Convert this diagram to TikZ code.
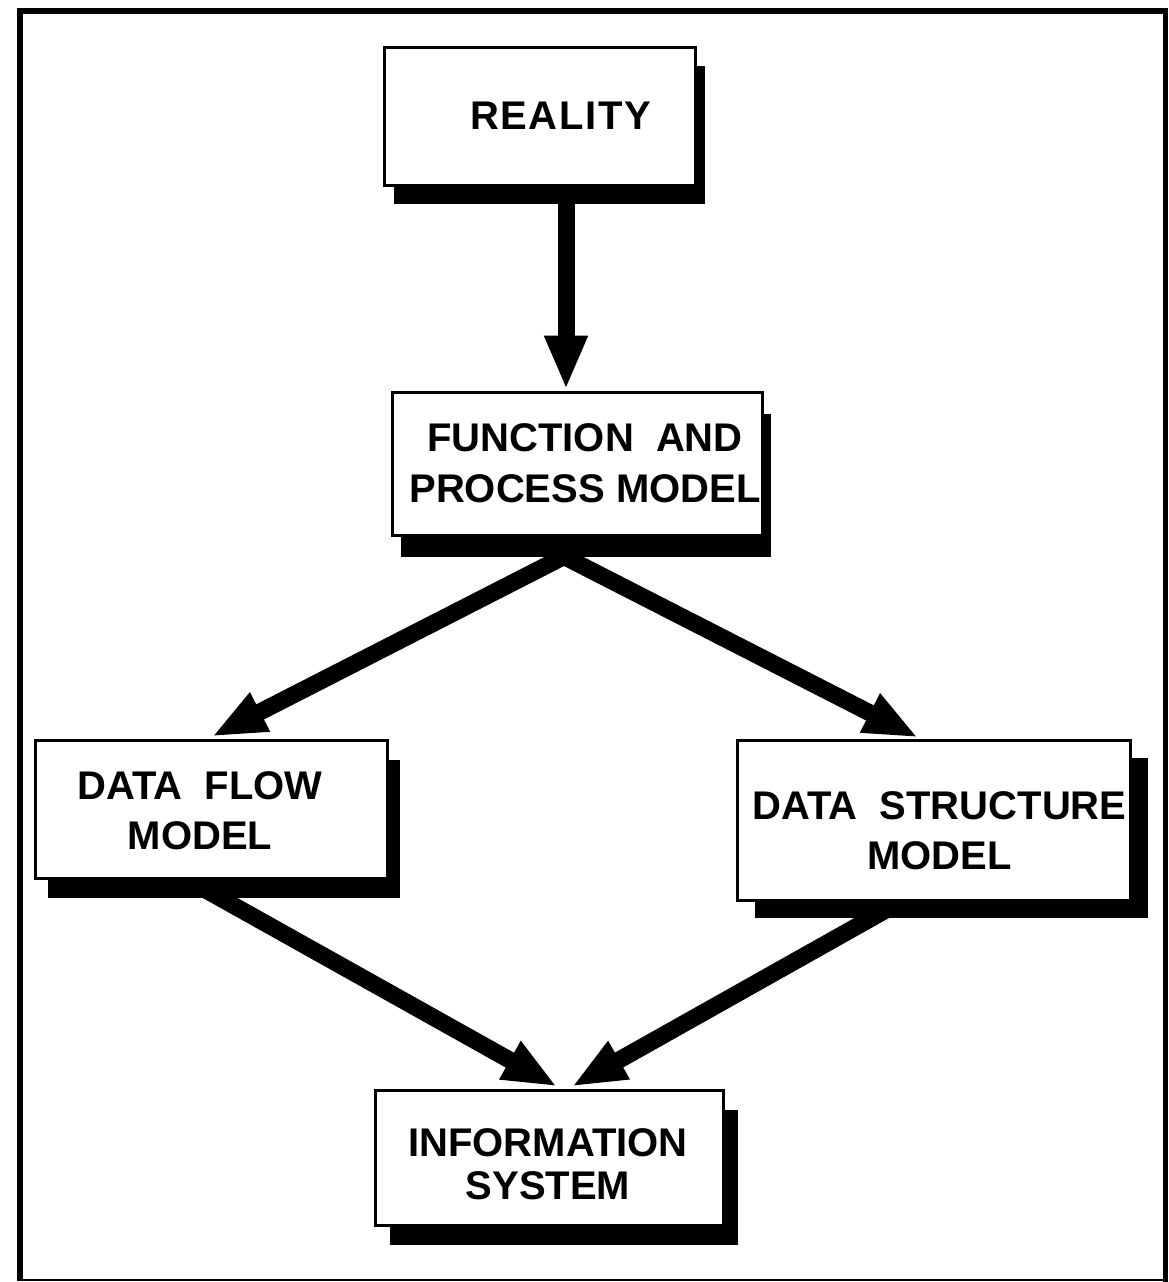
\documentclass[tikz,border=0pt]{standalone}
\usepackage{fontspec}
\setmainfont{Liberation Sans}
\usetikzlibrary{arrows.meta,calc,shadows,backgrounds}
\begin{document}
\begin{tikzpicture}[x=1pt,y=-1pt,
  box/.style={draw=black, line width=3pt, fill=white, rectangle, inner sep=0pt},
  boxshadow/.style 2 args={drop shadow={shadow xshift=#1pt, shadow yshift=-#2pt, opacity=1, fill=black}},
  lbl/.style={font=\bfseries\fontsize{40}{50}\selectfont, align=center, inner sep=0pt},
  bigarrow/.style={line width=17pt, -{Triangle[length=54pt,width=40pt]}}
]
\useasboundingbox (0,0) rectangle (1168,1282);

% outer frame
\draw[line width=6pt] (19.5,1280) -- (19.5,10.5) -- (1165.5,10.5);
\draw[line width=5pt] (1165.5,8) -- (1165.5,1282);
\draw[line width=1.5pt] (17,1280) -- (1168,1280);

% boxes
\node[box, boxshadow={10}{19}, minimum width=311pt, minimum height=138pt] (real) at (539.5,116) {};
\node[box, boxshadow={9}{22},  minimum width=370pt, minimum height=143pt] (fpm) at (577,463.5) {};
\node[box, boxshadow={13}{20}, minimum width=352pt, minimum height=138pt] (dfm) at (211,809) {};
\node[box, boxshadow={18}{18}, minimum width=393pt, minimum height=160pt] (dsm) at (933.5,820) {};
\node[box, boxshadow={15}{20}, minimum width=348pt, minimum height=135pt] (info) at (549,1157.5) {};

% labels
\node[lbl] (realtxt) at ($(real.center)+(21,0)$) {\addfontfeatures{LetterSpace=4}REALITY};
\node[lbl, font=\bfseries\fontsize{40}{51}\selectfont] (fpmtxt) at ($(fpm.center)+(8,0)$) {FUNCTION\ \ AND\\PROCESS MODEL};
\node[lbl] (dfmtxt) at ($(dfm.center)+(-11,2)$) {DATA\ \ FLOW\\MODEL};
\node[lbl] (dsmtxt) at ($(dsm.center)+(6,11)$) {DATA\ \ STRUCTURE\\MODEL};
\node[lbl, font=\bfseries\fontsize{40}{43}\selectfont] (infotxt) at ($(info.center)+(-1,7)$) {INFORMATION\\SYSTEM};

% connectors
\begin{pgfonlayer}{background}
  \draw[bigarrow] ($(real.south)+(26.5,5)$) -- ($(fpm.north)+(-11,-1)$);
  \draw[bigarrow] ($(fpm.south)+(-13,20)$) -- ($(dfm.north)+(1,-2)$);
  \draw[bigarrow] ($(fpm.south)+(-13,20)$) -- ($(dsm.north)+(-15.5,-1)$);
  \draw[bigarrow] ($(dfm.south)+(-6,10)$) -- ($(info.north)+(8,-2)$);
  \draw[bigarrow] ($(dsm.south)+(-48.5,9)$) -- ($(info.north)+(23,-2)$);
\end{pgfonlayer}
\end{tikzpicture}
\end{document}
